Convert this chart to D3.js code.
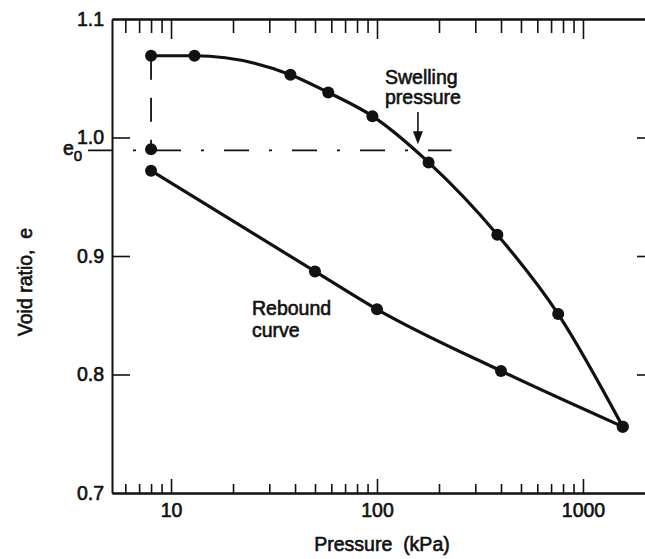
<!DOCTYPE html>
<html>
<head>
<meta charset="utf-8">
<script src="https://cdn.jsdelivr.net/npm/d3@7"></script>
<style>
  body { margin: 0; background: #fff; }
  text { font-family: "Liberation Sans", Arial, sans-serif; fill: #111; }
</style>
</head>
<body>
<div id="chart"></div>
<script>
// void ratio vs pressure (swell test)
const width = 645,
    height = 559;
const margin = { top: 19, right: -10, bottom: 66, left: 112 };

// loading curve
const loadPressure = [8, 13, 38, 58, 95, 178, 384, 758, 1560];
const loadVoid = [1.069, 1.069, 1.053, 1.038, 1.018, 0.979, 0.918, 0.851, 0.756];
// rebound curve
const reboundPressure = [1560, 400, 100, 50, 8];
const reboundVoid = [0.756, 0.803, 0.855, 0.887, 0.972];
// initial state
const e0 = 0.99;
const e0Pressure = 8;
const swellingPressure = 158;
const e0LineEnd = 230;

const xMajor = [10, 100, 1000];
const xMinor = [6, 7, 8, 9, 20, 30, 40, 50, 60, 70, 80, 90, 200, 300, 400, 500, 600, 700, 800, 900];
const yTicks = [0.7, 0.8, 0.9, 1.0, 1.1];

const svg = d3.select("#chart")
    .append("svg")
    .attr("width", width)
    .attr("height", height);

const x = d3.scaleLog()
    .domain([5.17, 2237])
    .range([margin.left, width - margin.right]);

const y = d3.scaleLinear()
    .domain([0.7, 1.1])
    .range([height - margin.bottom, margin.top]);

const fontSize = 19.5;
const textStroke = 0.6;

// axes
const axisStyle = g => {
    g.select(".domain").attr("stroke", "#111").attr("stroke-width", 2);
    g.selectAll(".tick line").attr("stroke", "#111").attr("stroke-width", 1.6);
    g.selectAll(".tick text")
        .style("font-size", fontSize + "px")
        .attr("fill", "#111")
        .attr("stroke", "#111")
        .attr("stroke-width", textStroke);
};

const bottom = height - margin.bottom;
svg.append("g")
    .attr("transform", `translate(0,${bottom})`)
    .call(d3.axisBottom(x).tickValues(xMinor).tickSize(-9).tickSizeOuter(0).tickFormat(""))
    .call(axisStyle);
svg.append("g")
    .attr("transform", `translate(0,${bottom})`)
    .call(d3.axisBottom(x).tickValues(xMajor).tickSize(-14).tickSizeOuter(0)
        .tickPadding(10.5).tickFormat(d3.format("d")))
    .call(axisStyle);

svg.append("g")
    .attr("transform", `translate(0,${margin.top})`)
    .call(d3.axisTop(x).tickValues(xMinor).tickSize(-14).tickSizeOuter(0).tickFormat(""))
    .call(axisStyle);
svg.append("g")
    .attr("transform", `translate(0,${margin.top})`)
    .call(d3.axisTop(x).tickValues(xMajor).tickSize(-20).tickSizeOuter(0).tickFormat(""))
    .call(axisStyle);

svg.append("g")
    .attr("transform", `translate(${margin.left},0)`)
    .call(d3.axisLeft(y).tickValues(yTicks).tickSize(-18).tickSizeOuter(0)
        .tickPadding(8).tickFormat(d3.format(".1f")))
    .call(axisStyle)
    .call(g => g.selectAll(".tick line").filter(d => d === 0.7 || d === 1.1).remove());

svg.append("g")
    .attr("transform", `translate(${width - margin.right},0)`)
    .call(d3.axisLeft(y).tickValues(yTicks).tickSize(18).tickSizeOuter(0).tickFormat(""))
    .call(axisStyle)
    .call(g => g.selectAll(".tick line").filter(d => d === 0.7 || d === 1.1).remove());

// axis titles
svg.append("text")
    .attr("x", 382)
    .attr("y", 551)
    .attr("text-anchor", "middle")
    .style("font-size", fontSize + "px")
    .attr("stroke", "#111").attr("stroke-width", textStroke)
    .attr("xml:space", "preserve")
    .text("Pressure  (kPa)");

svg.append("text")
    .attr("transform", "translate(32,282) rotate(-90)")
    .attr("text-anchor", "middle")
    .style("font-size", fontSize + "px")
    .attr("stroke", "#111").attr("stroke-width", textStroke)
    .attr("xml:space", "preserve")
    .text("Void ratio,  e");

// e0 label
const e0Label = svg.append("text")
    .attr("x", 63)
    .attr("y", y(e0) + 6)
    .style("font-size", fontSize + "px")
    .attr("stroke", "#111").attr("stroke-width", textStroke);
e0Label.append("tspan").text("e");
e0Label.append("tspan").attr("dy", 6).style("font-size", "15px").text("0");

// e0 reference line (dash-dot), starting left of the axis
svg.append("line")
    .attr("x1", x.range()[0] - 24)
    .attr("x2", x(e0LineEnd))
    .attr("y1", y(e0) + 1)
    .attr("y2", y(e0) + 1)
    .attr("stroke", "#111")
    .attr("stroke-width", 1.8)
    .attr("stroke-dasharray", "25,20,3,20");

// vertical dashed drop from initial point to e0
svg.append("line")
    .attr("x1", x(e0Pressure))
    .attr("x2", x(e0Pressure))
    .attr("y1", y(loadVoid[0]))
    .attr("y2", y(e0))
    .attr("stroke", "#111")
    .attr("stroke-width", 1.8)
    .attr("stroke-dasharray", "24,18");

const loadData = loadPressure.map((p, i) => ({ p, e: loadVoid[i] }));
const reboundData = reboundPressure.map((p, i) => ({ p, e: reboundVoid[i] }));

const line = d3.line()
    .x(d => x(d.p))
    .y(d => y(d.e))
    .curve(d3.curveMonotoneX);

[loadData, reboundData].forEach(data => {
    svg.append("path")
        .datum(data.slice().sort((a, b) => d3.ascending(a.p, b.p)))
        .attr("d", line)
        .attr("fill", "none")
        .attr("stroke", "#111")
        .attr("stroke-width", 3.2)
        .attr("stroke-linejoin", "round");
});

const points = loadData.concat(reboundData, [{ p: e0Pressure, e: e0 }]);
svg.selectAll("circle.pt")
    .data(points)
    .join("circle")
    .attr("class", "pt")
    .attr("cx", d => x(d.p))
    .attr("cy", d => y(d.e))
    .attr("r", 6)
    .attr("fill", "#111");

// swelling pressure annotation
const ax = x(swellingPressure);
const tipY = y(e0) - 5;
svg.append("line")
    .attr("x1", ax).attr("x2", ax)
    .attr("y1", 112).attr("y2", tipY - 10)
    .attr("stroke", "#111")
    .attr("stroke-width", 1.6);
svg.append("path")
    .attr("d", `M${ax - 5},${tipY - 13}L${ax + 5},${tipY - 13}L${ax},${tipY}Z`)
    .attr("fill", "#111");

const swellText = svg.append("text")
    .style("font-size", fontSize + "px")
    .attr("stroke", "#111").attr("stroke-width", textStroke);
swellText.append("tspan").attr("x", 385).attr("y", 84).text("Swelling");
swellText.append("tspan").attr("x", 385).attr("y", 104).text("pressure");

const reboundText = svg.append("text")
    .style("font-size", fontSize + "px")
    .attr("stroke", "#111").attr("stroke-width", textStroke);
reboundText.append("tspan").attr("x", 252).attr("y", 315).text("Rebound");
reboundText.append("tspan").attr("x", 252).attr("y", 337).text("curve");
</script>
</body>
</html>
